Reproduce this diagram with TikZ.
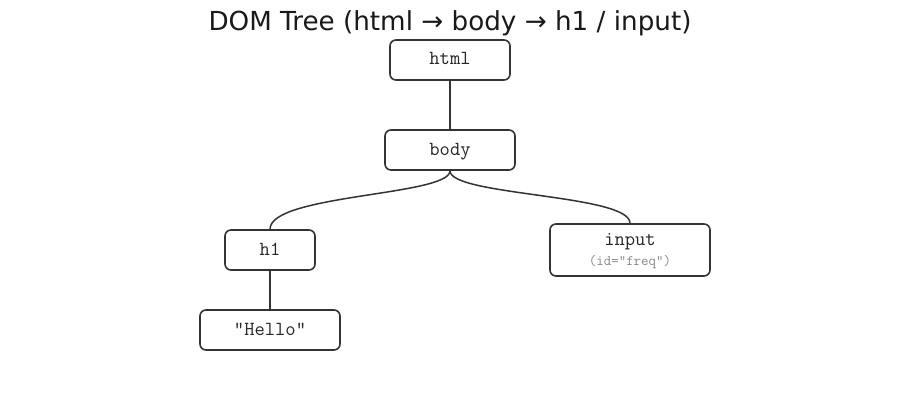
\documentclass[tikz,border=0pt]{standalone}
\usepackage{fontspec}
\setmainfont{DejaVu Sans}
\definecolor{stroke}{HTML}{333333}
\definecolor{subgray}{HTML}{888888}
\tikzset{
  codetext/.style={font=\ttfamily\fontsize{20}{22}\selectfont, text=black!85, text height=12pt, text depth=2pt},
  domnode/.style={draw=stroke, line width=1.6pt, rounded corners=6pt, fill=white,
    inner sep=0pt, align=center, codetext},
  edge/.style={draw=stroke, line width=1.5pt},
}
\begin{document}
\begin{tikzpicture}[x=1pt,y=-1pt]
\useasboundingbox (0,0) rectangle (900,420);
\node[font=\fontsize{26.2}{29}\selectfont, text=black!90] (title) at (450,23) {DOM Tree (html → body → h1 / input)};
\node[domnode, minimum width=120pt, minimum height=40pt] (html) at (450,60) {html};
\node[domnode, minimum width=130pt, minimum height=40pt] (body) at (450,150) {body};
\node[domnode, minimum width=90pt, minimum height=40pt] (h1) at (270,250) {h1};
\node[domnode, minimum width=160pt, minimum height=52pt] (input) at (630,250) {};
\node[codetext] (inputlbl) at (630,240) {input};
\node[font=\ttfamily\fontsize{14.5}{16}\selectfont, text=subgray, text height=9pt, text depth=1pt] (inputsub) at (630,261) {(id="freq")};
\node[domnode, minimum width=140pt, minimum height=40pt] (hello) at (270,330) {"Hello"};
\draw[edge] (html.south) -- (body.north);
\draw[edge] (h1.south) -- (hello.north);
\draw[edge] (body.south) .. controls +(0,25) and +(0,-35) .. (h1.north);
\draw[edge] (body.south) .. controls +(0,25) and +(0,-29) .. (input.north);
\end{tikzpicture}
\end{document}
